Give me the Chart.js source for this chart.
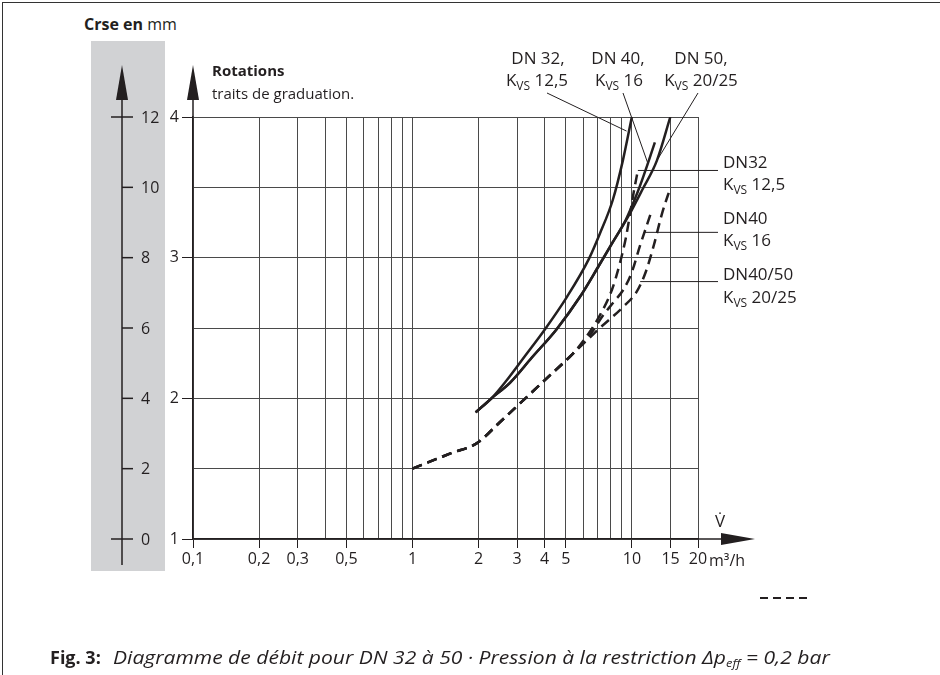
<!DOCTYPE html>
<html lang="fr">
<head>
<meta charset="utf-8">
<title>Diagramme de débit</title>
<script src="https://cdn.jsdelivr.net/npm/chart.js@4.4.1/dist/chart.umd.min.js"></script>
<style>
  body { margin: 0; background: #fff; }
  #wrap { position: relative; width: 940px; height: 675px; overflow: hidden; font-family: 'Open Sans', Lato, sans-serif; color: #231f20; }
  #frame { position: absolute; left: 2px; top: 2px; width: 960px; height: 700px; border-top: 1.5px solid #333; border-left: 1.5px solid #333; }
  #band { position: absolute; left: 91px; top: 41px; width: 74px; height: 530px; background: #d1d2d4; }
  #chart { position: absolute; left: 0; top: 0; }
  #unit { position: absolute; left: 84px; top: 13px; font-size: 16px; }
  #caption { position: absolute; left: 50px; top: 645px; font-size: 18px; white-space: nowrap; }
  #caption i { display: inline-block; margin-left: 12px; transform: scaleX(1.17); transform-origin: left center; }
  #caption sub { font-size: 11px; vertical-align: -3px; }
</style>
</head>
<body>
<div id="wrap">
  <div id="frame"></div>
  <div id="band"></div>
  <div id="unit"><b>Crse en</b> mm</div>
  <canvas id="chart" width="940" height="675"></canvas>
  <div id="caption"><b>Fig. 3:</b><i>Diagramme de débit pour DN 32 à 50 · Pression à la restriction Δp<sub>eff</sub> = 0,2 bar</i></div>
</div>
<script>
// grid and tick values
const flowGrid = [0.1, 0.2, 0.3, 0.4, 0.5, 0.6, 0.7, 0.8, 0.9, 1, 2, 3, 4, 5, 6, 7, 8, 9, 10, 15, 20];
const flowTickValues = [0.1, 0.2, 0.3, 0.5, 1, 2, 3, 4, 5, 10, 15, 20];
const flowTickLabels = ['0,1', '0,2', '0,3', '0,5', '1', '2', '3', '4', '5', '10', '15', '20'];
const rotationTicks = [1, 2, 3, 4];
const strokeTicks = [0, 2, 4, 6, 8, 10, 12];
const strokePerRotation = 4; // 12 mm = 4 rotations, 0 mm = 1 rotation

// solid curves (flow m3/h, rotations)
const dn32Q = [1.94, 2.29, 2.66, 3.25, 4.01, 5.05, 6.36, 7.14, 8.18, 9.09, 9.99];
const dn32H = [1.9, 2.0, 2.12, 2.3, 2.49, 2.72, 2.99, 3.17, 3.41, 3.69, 4.0];
const dn40Q = [1.94, 2.29, 2.78, 3.5, 4.53, 5.79, 6.99, 8.1, 9.38, 10.64, 11.82, 12.72];
const dn40H = [1.9, 2.0, 2.11, 2.29, 2.49, 2.72, 2.93, 3.1, 3.27, 3.47, 3.67, 3.82];
const dn50Q = [1.94, 2.29, 2.78, 3.5, 4.53, 5.79, 6.99, 8.18, 9.68, 11.21, 12.99, 14.96];
const dn50H = [1.9, 2.0, 2.11, 2.29, 2.49, 2.72, 2.93, 3.11, 3.3, 3.49, 3.69, 4.0];

// dashed curves
const dn32DashQ = [1, 1.5, 1.96, 2.5, 2.93, 4.01, 5.4, 6.21, 7.14, 8.1, 8.81, 9.38, 9.78, 10.2, 10.64];
const dn32DashH = [1.5, 1.61, 1.68, 1.83, 1.93, 2.13, 2.32, 2.44, 2.59, 2.77, 2.96, 3.14, 3.3, 3.47, 3.62];
const dn40DashQ = [1, 1.5, 1.96, 2.5, 2.93, 4.01, 5.4, 6.43, 7.39, 8.21, 9.12, 9.95, 10.86, 11.57, 12.28];
const dn40DashH = [1.5, 1.61, 1.68, 1.83, 1.93, 2.13, 2.32, 2.45, 2.59, 2.68, 2.77, 2.89, 3.08, 3.21, 3.33];
const dn4050DashQ = [1, 1.5, 1.96, 2.5, 2.93, 4.01, 5.4, 7.14, 9.12, 10.53, 11.57, 12.59, 13.69, 14.99];
const dn4050DashH = [1.5, 1.61, 1.68, 1.83, 1.93, 2.13, 2.32, 2.5, 2.65, 2.76, 2.9, 3.09, 3.31, 3.5];

const ink = '#231f20';
const family = '"Open Sans", Lato, sans-serif';
const mainFont = '17px ' + family;
const subFont = '12px ' + family;

function toPoints(qs, hs) {
    return qs.map((q, i) => ({ x: q, y: hs[i] }));
}

function curve(qs, hs, dashed) {
    return {
        data: toPoints(qs, hs),
        showLine: true,
        borderColor: ink,
        borderWidth: 2.5,
        borderDash: dashed ? [10, 6] : [],
        pointRadius: 0,
        cubicInterpolationMode: 'monotone',
        fill: false
    };
}

function drawKvs(ctx, x, y, rest, align) {
    ctx.font = mainFont; const wK = ctx.measureText('K').width;
    ctx.font = subFont; const wS = ctx.measureText('VS').width;
    ctx.font = mainFont; const wR = ctx.measureText(rest).width;
    let left = align === 'center' ? x - (wK + wS + wR) / 2 : x;
    ctx.textAlign = 'left';
    ctx.font = mainFont; ctx.fillText('K', left, y);
    ctx.font = subFont; ctx.fillText('VS', left + wK, y + 4);
    ctx.font = mainFont; ctx.fillText(rest, left + wK + wS, y);
}

function arrow(ctx, x1, y1, x2, y2, x3, y3) {
    ctx.beginPath();
    ctx.moveTo(x1, y1); ctx.lineTo(x2, y2); ctx.lineTo(x3, y3);
    ctx.closePath();
    ctx.fill();
}

const annotations = {
    id: 'annotations',
    afterDraw(chart) {
        const ctx = chart.ctx;
        const x = chart.scales.x, y = chart.scales.y;
        const area = chart.chartArea;
        ctx.save();
        ctx.fillStyle = ink;
        ctx.strokeStyle = ink;

        // stroke axis (mm) in the grey band
        const mmX = 122;
        ctx.lineWidth = 1.5;
        ctx.beginPath(); ctx.moveTo(mmX, 95); ctx.lineTo(mmX, 565); ctx.stroke();
        arrow(ctx, mmX, 65, mmX - 6, 100, mmX + 6, 100);
        ctx.font = '16px ' + family;
        ctx.textAlign = 'left';
        ctx.textBaseline = 'middle';
        strokeTicks.forEach(function (mm) {
            const py = y.getPixelForValue(1 + mm / strokePerRotation);
            const full = mm === strokeTicks[0] || mm === strokeTicks[strokeTicks.length - 1];
            ctx.beginPath();
            ctx.moveTo(full ? mmX - 11 : mmX, py);
            ctx.lineTo(mmX + 11, py);
            ctx.stroke();
            ctx.fillText(String(mm), mmX + 19, py + 1);
        });

        // rotation axis extension and arrow
        ctx.beginPath(); ctx.moveTo(area.left, area.top); ctx.lineTo(area.left, 96); ctx.stroke();
        arrow(ctx, area.left, 65, area.left - 6, 100, area.left + 6, 100);

        // flow axis extension and arrow
        ctx.beginPath(); ctx.moveTo(area.right, area.bottom); ctx.lineTo(725, area.bottom); ctx.stroke();
        arrow(ctx, 755, area.bottom, 721, area.bottom - 6, 721, area.bottom + 6);

        ctx.textBaseline = 'alphabetic';
        ctx.font = 'bold 15px ' + family;
        ctx.fillText('Rotations', 212, 76);
        ctx.font = '15px ' + family;
        ctx.fillText('traits de graduation.', 212, 99);

        ctx.font = mainFont;
        ctx.textAlign = 'center';
        ctx.fillText('V̇', 720, 527);
        ctx.textAlign = 'left';
        ctx.font = '16px ' + family;
        ctx.fillText('m³/h', 709, 566);

        // curve labels on top
        ctx.font = mainFont;
        ctx.textAlign = 'center';
        ctx.fillText('DN 32,', 538, 64);
        drawKvs(ctx, 537, 86, ' 12,5', 'center');
        ctx.textAlign = 'center';
        ctx.fillText('DN 40,', 618, 64);
        drawKvs(ctx, 619, 86, ' 16', 'center');
        ctx.textAlign = 'center';
        ctx.fillText('DN 50,', 701, 64);
        drawKvs(ctx, 701, 86, ' 20/25', 'center');

        // curve labels on the right
        ctx.textAlign = 'left';
        ctx.fillText('DN32', 723, 168);
        drawKvs(ctx, 723, 190, ' 12,5');
        ctx.fillText('DN40', 723, 224);
        drawKvs(ctx, 723, 246, ' 16');
        ctx.fillText('DN40/50', 723, 280);
        drawKvs(ctx, 723, 303, ' 20/25');

        // leader lines
        ctx.lineWidth = 1;
        function leader(x0, y0, q, h) {
            ctx.beginPath();
            ctx.moveTo(x0, y0);
            ctx.lineTo(x.getPixelForValue(q), y.getPixelForValue(h));
            ctx.stroke();
        }
        leader(547, 93, 9.45, 3.9);
        leader(623, 93, 11.82, 3.67);
        leader(698, 93, 12.99, 3.69);
        function hLeader(q, h) {
            const py = y.getPixelForValue(h);
            ctx.beginPath();
            ctx.moveTo(x.getPixelForValue(q), py);
            ctx.lineTo(718, py);
            ctx.stroke();
        }
        hLeader(10.64, 3.62);
        hLeader(11.4, 3.18);
        hLeader(10.9, 2.83);

        // dashed line sample
        ctx.lineWidth = 2;
        ctx.setLineDash([8, 5]);
        ctx.beginPath(); ctx.moveTo(760, 598); ctx.lineTo(810, 598); ctx.stroke();
        ctx.restore();
    }
};

new Chart(document.getElementById('chart'), {
    type: 'scatter',
    data: {
        datasets: [
            curve(dn32Q, dn32H, false),
            curve(dn40Q, dn40H, false),
            curve(dn50Q, dn50H, false),
            curve(dn32DashQ, dn32DashH, true),
            curve(dn40DashQ, dn40DashH, true),
            curve(dn4050DashQ, dn4050DashH, true)
        ]
    },
    options: {
        responsive: false,
        animation: false,
        devicePixelRatio: 1,
        layout: { padding: { left: 0, top: 117, right: 242, bottom: 96 } },
        plugins: { legend: { display: false }, tooltip: { enabled: false } },
        scales: {
            x: {
                type: 'logarithmic',
                min: 0.1,
                max: 20,
                afterBuildTicks: function (scale) {
                    scale.ticks = flowGrid.map(v => ({ value: v }));
                },
                afterFit: function (scale) { scale.height = 40; },
                ticks: {
                    autoSkip: false,
                    maxRotation: 0,
                    padding: 2,
                    color: ink,
                    font: { family: family, size: 16 },
                    callback: function (v) {
                        const i = flowTickValues.indexOf(v);
                        return i >= 0 ? flowTickLabels[i] : '';
                    }
                },
                grid: {
                    color: '#4a4a4a',
                    lineWidth: 1,
                    tickLength: 9,
                    tickColor: ctx => (ctx.tick && flowTickValues.indexOf(ctx.tick.value) >= 0) ? ink : 'rgba(0,0,0,0)'
                },
                border: { color: ink, width: 1.5 }
            },
            y: {
                type: 'linear',
                min: 1,
                max: 4,
                afterFit: function (scale) { scale.width = 193; },
                ticks: {
                    stepSize: 0.5,
                    padding: 3,
                    color: ink,
                    font: { family: family, size: 16 },
                    callback: v => rotationTicks.indexOf(v) >= 0 ? String(v) : ''
                },
                grid: {
                    color: '#4a4a4a',
                    lineWidth: 1,
                    tickLength: 11,
                    tickColor: ctx => (ctx.tick && rotationTicks.indexOf(ctx.tick.value) >= 0) ? ink : 'rgba(0,0,0,0)'
                },
                border: { color: ink, width: 1.5 }
            }
        }
    },
    plugins: [annotations]
});
</script>
</body>
</html>
